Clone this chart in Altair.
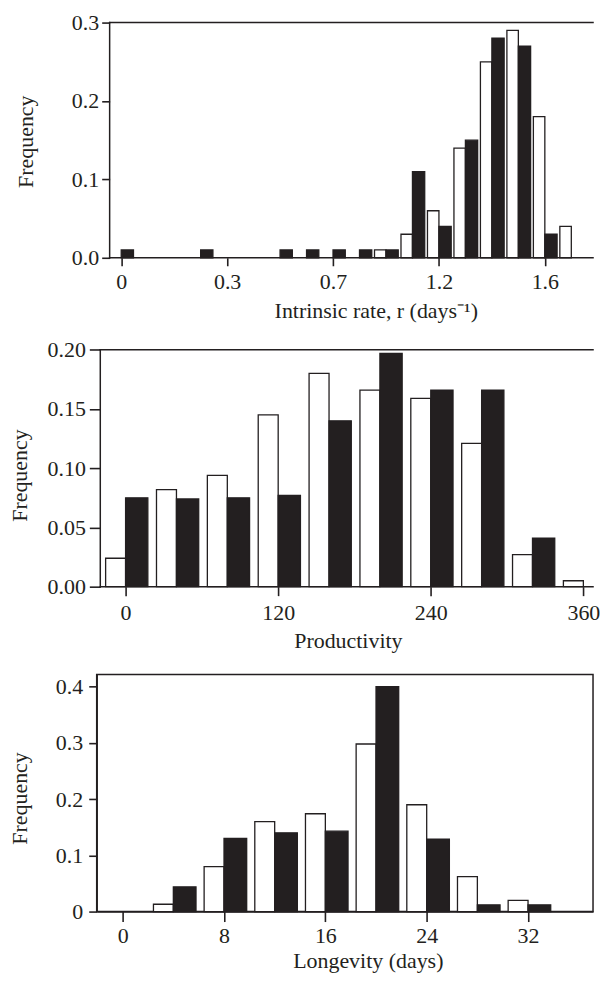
import json
import altair as alt
import pandas as pd

INK = "#231f20"
FONT = "Liberation Serif"

# ---------------- data ----------------
# Panel 1: intrinsic rate r (bars by bin index; tick labels as printed)
r_bin = list(range(18))
r_open = [0, 0, 0, 0, 0, 0, 0, 0, 0, 0, 0.01, 0.03, 0.06, 0.14, 0.25, 0.29, 0.18, 0.04]
r_filled = [0.01, 0, 0, 0.01, 0, 0, 0.01, 0.01, 0.01, 0.01, 0.01, 0.11, 0.04, 0.15, 0.28, 0.27, 0.03, 0]
r_tick_values = [0, 4, 8, 12, 16]
r_tick_labels = ["0", "0.3", "0.7", "1.2", "1.6"]

# Panel 2: productivity
prod_bin = [0, 40, 80, 120, 160, 200, 240, 280, 320, 360]
prod_open = [0.024, 0.082, 0.094, 0.145, 0.180, 0.166, 0.159, 0.121, 0.027, 0.005]
prod_filled = [0.075, 0.074, 0.075, 0.077, 0.140, 0.197, 0.166, 0.166, 0.041, 0]
prod_ticks = [0, 120, 240, 360]

# Panel 3: longevity (days)
long_bin = [4, 8, 12, 16, 20, 24, 28, 32]
long_open = [0.013, 0.080, 0.160, 0.174, 0.298, 0.190, 0.062, 0.020]
long_filled = [0.044, 0.130, 0.140, 0.143, 0.400, 0.129, 0.012, 0.012]
long_ticks = [0, 8, 16, 24, 32]

PLOT_W = 498


def frame(bins, open_, filled):
    rows = []
    for b, o, f in zip(bins, open_, filled):
        if o > 0:
            rows.append({"bin": b, "group": "open", "freq": o})
        if f > 0:
            rows.append({"bin": b, "group": "filled", "freq": f})
    return pd.DataFrame(rows)


def panel(df, w_open, w_filled, xdom, ydom, xaxis, yaxis, height, box=None):
    xs = alt.Scale(domain=xdom, nice=False, zero=False)
    ys = alt.Scale(domain=ydom, nice=False, zero=False)
    bars = (
        alt.Chart(df)
        .transform_calculate(
            x0=f"datum.group == 'open' ? datum.bin - {w_open} : datum.bin",
            x1=f"datum.group == 'open' ? datum.bin : datum.bin + {w_filled}",
        )
        .mark_rect(stroke=INK, strokeWidth=1.3)
        .encode(
            x=alt.X("x0:Q", scale=xs, axis=xaxis),
            x2="x1:Q",
            y=alt.Y("freq:Q", scale=ys, axis=yaxis),
            y2=alt.datum(0),
            fill=alt.Fill(
                "group:N",
                scale=alt.Scale(domain=["open", "filled"], range=["white", INK]),
                legend=None,
            ),
        )
    )
    layers = [bars]
    if box is not None:
        # open frame: axis lines starting at the y axis, plus a top line
        x_left, x_right, y_top = box
        one = pd.DataFrame({"k": [0]})
        rule = alt.Chart(one).mark_rule(color=INK, strokeWidth=1.5, strokeCap="square")
        layers += [
            rule.encode(x=alt.datum(x_left), x2=alt.datum(x_right), y=alt.datum(0)),
            rule.encode(x=alt.datum(x_left), x2=alt.datum(x_right), y=alt.datum(y_top)),
            rule.encode(x=alt.datum(x_left), y=alt.datum(0), y2=alt.datum(y_top)),
        ]
        view = alt.ViewBackground(stroke=None)
    else:
        view = alt.ViewBackground(stroke=INK, strokeWidth=1.5)
    return alt.layer(*layers).properties(width=PLOT_W, height=height, view=view)


label_expr_r = f"{json.dumps(r_tick_labels)}[indexof({json.dumps(r_tick_values)}, datum.value)]"

# ---- panel 1 ----
top = panel(
    frame(r_bin, r_open, r_filled),
    0.433, 0.463,
    [-0.926, 17.82], [0, 0.3],
    alt.Axis(values=r_tick_values, labelExpr=label_expr_r, title="Intrinsic rate, r (days\u207b\u00b9)",
             domain=False, tickSize=8, labelPadding=23, labelBaseline="alphabetic",
             titleX=280, titleY=60, titleBaseline="alphabetic"),
    alt.Axis(values=[0, 0.1, 0.2, 0.3], format=".1f", title="Frequency", domain=False, offset=-13,
             tickSize=8, labelPadding=3, titleX=-84, titleY=119, titleBaseline="middle", titleAngle=270),
    236, box=(-0.437, 17.82, 0.3),
)

# ---- panel 2 ----
mid = panel(
    frame(prod_bin, prod_open, prod_filled),
    15.7, 17.5,
    [-22.72, 367.6], [0, 0.2036],
    alt.Axis(values=prod_ticks, title="Productivity",
             domain=False, tickSize=9, labelPadding=24, labelBaseline="alphabetic",
             titleX=252, titleY=61, titleBaseline="alphabetic"),
    alt.Axis(values=[0, 0.05, 0.1, 0.15, 0.2], format=".2f", title="Frequency", domain=False, offset=-3.6,
             tickSize=11, labelPadding=4, titleX=-81, titleY=130, titleBaseline="middle", titleAngle=270),
    242, box=(-19.9, 367.6, 0.2),
)

# ---- panel 3 ----
bot = panel(
    frame(long_bin, long_open, long_filled),
    1.57, 1.79,
    [-2.05, 37.13], [0, 0.4218],
    alt.Axis(values=long_ticks, title="Longevity (days)",
             tickSize=10, labelPadding=21, labelBaseline="alphabetic",
             titleX=272, titleY=56, titleBaseline="alphabetic"),
    alt.Axis(values=[0, 0.1, 0.2, 0.3, 0.4],
             labelExpr="datum.value == 0 ? '0' : format(datum.value, '.1f')", title="Frequency",
             tickSize=8, labelPadding=6, titleX=-77, titleY=124, titleBaseline="middle", titleAngle=270),
    238,
)

chart = (
    alt.vconcat(top, mid, bot, spacing=88, bounds="flush")
    .properties(padding={"left": 0, "top": 2, "right": 0, "bottom": 0})
    .configure_view(stroke=None)
    .configure_axis(
        grid=False,
        domainColor=INK,
        domainWidth=1.5,
        tickColor=INK,
        tickWidth=1.6,
        labelFont=FONT,
        labelFontSize=22,
        labelColor=INK,
        titleFont=FONT,
        titleFontSize=22,
        titleFontWeight="normal",
        titleColor=INK,
    )
)

chart.save("out.html", embed_options={"renderer": "svg", "actions": False})
